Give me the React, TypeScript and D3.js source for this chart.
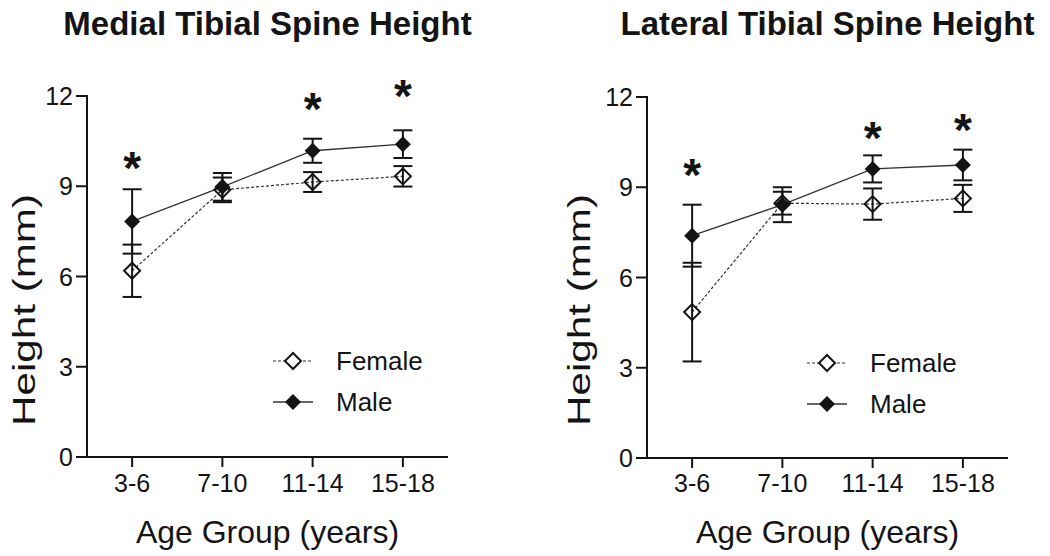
import React from "react";
import * as d3 from "d3";

const ageGroups = ["3-6", "7-10", "11-14", "15-18"];
const yTicks = [0, 3, 6, 9, 12];

const medialFemaleMean = [6.19, 8.88, 9.14, 9.33];
const medialFemaleErr = [0.87, 0.41, 0.33, 0.34];
const medialMaleMean = [7.83, 8.98, 10.18, 10.4];
const medialMaleErr = [1.07, 0.46, 0.4, 0.46];
const medialStars = [9.81, null, 11.77, 12.2];

const lateralFemaleMean = [4.85, 8.47, 8.44, 8.63];
const lateralFemaleErr = [1.64, 0.38, 0.52, 0.45];
const lateralMaleMean = [7.39, 8.42, 9.61, 9.74];
const lateralMaleErr = [1.03, 0.58, 0.45, 0.51];
const lateralStars = [9.6, null, 10.83, 11.1];

const INK = "#141414";
const FONT = "'Liberation Sans', Arial, Helvetica, sans-serif";

type PanelProps = {
  title: string;
  femaleMean: number[];
  femaleErr: number[];
  maleMean: number[];
  maleErr: number[];
  stars: (number | null)[];
  x0: number;
  x1: number;
  yBottom: number;
  yTop: number;
  yLabelX: number;
  legendX: number;
  legendY: number;
};

const diamond = d3.symbol().type(d3.symbolSquare).size(128)() as string;

function Panel(p: PanelProps) {
  const x = d3.scalePoint<string>().domain(ageGroups).range([p.x0, p.x1]).padding(0.5);
  const y = d3.scaleLinear().domain([0, 12]).range([p.yBottom, p.yTop]);
  const line = d3
    .line<number>()
    .x((_, i) => x(ageGroups[i]) as number)
    .y((v) => y(v));
  const cap = 9.5;
  const midX = (p.x0 + p.x1) / 2;
  const starFs = 46;

  const errBars = (mean: number[], err: number[], key: string) =>
    mean.map((m, i) => {
      const cx = x(ageGroups[i]) as number;
      const yt = y(m + err[i]);
      const yb = y(m - err[i]);
      return (
        <g key={key + i} stroke={INK} strokeWidth={2}>
          <line x1={cx} x2={cx} y1={yt} y2={yb} />
          <line x1={cx - cap} x2={cx + cap} y1={yt} y2={yt} />
          <line x1={cx - cap} x2={cx + cap} y1={yb} y2={yb} />
        </g>
      );
    });

  return (
    <g fontFamily={FONT} fill={INK}>
      <text x={midX} y={35} textAnchor="middle" fontWeight="bold" fontSize={33}>
        {p.title}
      </text>
      {/* axes */}
      <line x1={p.x0} x2={p.x0} y1={p.yTop - 1} y2={p.yBottom + 1} stroke={INK} strokeWidth={2} />
      <line x1={p.x0 - 1} x2={p.x1} y1={p.yBottom} y2={p.yBottom} stroke={INK} strokeWidth={2} />
      {yTicks.map((t) => (
        <g key={"yt" + t}>
          <line x1={p.x0 - 11} x2={p.x0} y1={y(t)} y2={y(t)} stroke={INK} strokeWidth={2} />
          <text x={p.x0 - 14} y={y(t) + 9} textAnchor="end" fontSize={25}>
            {t}
          </text>
        </g>
      ))}
      {ageGroups.map((g) => (
        <g key={"xt" + g}>
          <line x1={x(g)} x2={x(g)} y1={p.yBottom} y2={p.yBottom + 10} stroke={INK} strokeWidth={2} />
          <text x={x(g)} y={492} textAnchor="middle" fontSize={25}>
            {g}
          </text>
        </g>
      ))}
      <text x={midX} y={543} textAnchor="middle" fontSize={32}>
        Age Group (years)
      </text>
      <text
        transform={`translate(${p.yLabelX + 10},310) rotate(-90)`}
        textAnchor="middle"
        fontSize={31}
        textLength={232}
        lengthAdjust="spacingAndGlyphs"
      >
        Height (mm)
      </text>

      {/* series lines */}
      <path d={line(p.femaleMean) as string} fill="none" stroke="#333" strokeWidth={1.2} strokeDasharray="3,2" />
      <path d={line(p.maleMean) as string} fill="none" stroke="#333" strokeWidth={1.3} />
      {errBars(p.femaleMean, p.femaleErr, "fe")}
      {errBars(p.maleMean, p.maleErr, "me")}
      {p.femaleMean.map((m, i) => (
        <path
          key={"fm" + i}
          d={diamond}
          transform={`translate(${x(ageGroups[i])},${y(m)}) rotate(45)`}
          fill="none"
          stroke={INK}
          strokeWidth={2}
        />
      ))}
      {p.maleMean.map((m, i) => (
        <path
          key={"mm" + i}
          d={diamond}
          transform={`translate(${x(ageGroups[i])},${y(m)}) rotate(45)`}
          fill={INK}
        />
      ))}
      {p.stars.map((s, i) =>
        s == null ? null : (
          <text
            key={"st" + i}
            x={x(ageGroups[i])}
            y={y(s) + starFs * 0.47}
            textAnchor="middle"
            fontWeight="bold"
            fontSize={starFs}
          >
            *
          </text>
        )
      )}

      {/* legend */}
      <g>
        <line
          x1={p.legendX - 20}
          x2={p.legendX + 20}
          y1={p.legendY}
          y2={p.legendY}
          stroke="#333"
          strokeWidth={1.2}
          strokeDasharray="3,2"
        />
        <path
          d={diamond}
          transform={`translate(${p.legendX},${p.legendY}) rotate(45)`}
          fill="#fff"
          stroke={INK}
          strokeWidth={2}
        />
        <text x={p.legendX + 43} y={p.legendY + 9} fontSize={26}>
          Female
        </text>
        <line
          x1={p.legendX - 20}
          x2={p.legendX + 20}
          y1={p.legendY + 41}
          y2={p.legendY + 41}
          stroke="#333"
          strokeWidth={1.3}
        />
        <path d={diamond} transform={`translate(${p.legendX},${p.legendY + 41}) rotate(45)`} fill={INK} />
        <text x={p.legendX + 43} y={p.legendY + 50} fontSize={26}>
          Male
        </text>
      </g>
    </g>
  );
}

export default function App() {
  return (
    <svg
      width={1050}
      height={556}
      style={{ position: "absolute", left: 0, top: 0, background: "#fff" }}
    >
      <rect width={1050} height={556} fill="#fff" />
      <Panel
        title="Medial Tibial Spine Height"
        femaleMean={medialFemaleMean}
        femaleErr={medialFemaleErr}
        maleMean={medialMaleMean}
        maleErr={medialMaleErr}
        stars={medialStars}
        x0={87}
        x1={448}
        yBottom={457}
        yTop={96}
        yLabelX={25}
        legendX={293}
        legendY={361}
      />
      <Panel
        title="Lateral Tibial Spine Height"
        femaleMean={lateralFemaleMean}
        femaleErr={lateralFemaleErr}
        maleMean={lateralMaleMean}
        maleErr={lateralMaleErr}
        stars={lateralStars}
        x0={647}
        x1={1008}
        yBottom={458}
        yTop={97}
        yLabelX={580}
        legendX={827}
        legendY={363}
      />
    </svg>
  );
}
